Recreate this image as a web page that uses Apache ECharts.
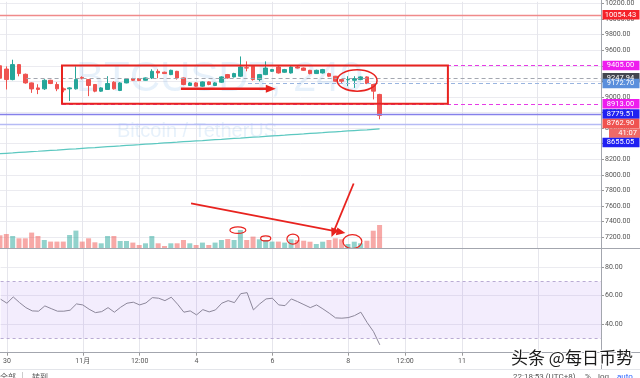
<!DOCTYPE html>
<html>
<head>
<meta charset="utf-8">
<script src="https://cdn.jsdelivr.net/npm/echarts@6/dist/echarts.min.js"></script>
<style>
html, body { margin: 0; padding: 0; background: #fff; }
#chart { width: 640px; height: 378px; }
</style>
</head>
<body>
<div id="chart"></div>
<script>
// BTCUSDT 4h, first slot (Oct 29 20:00) is only half visible on the left edge
var startTime = Date.UTC(2019, 9, 29, 20);
var slotCount = 96;

// [open, close, low, high]
var candles = [
  [9400, 9240, 9200, 9410],
  [9358, 9223, 9096, 9393], [9223, 9415, 9214, 9478], [9415, 9300, 9265, 9420], [9291, 9180, 9170, 9300],
  [9180, 9103, 9052, 9185], [9116, 9096, 9036, 9163], [9104, 9214, 9090, 9228], [9214, 9172, 9165, 9220],
  [9160, 9104, 9074, 9190], [9104, 9090, 9060, 9120], [9104, 9116, 8947, 9125], [9104, 9223, 9095, 9393],
  [9250, 9240, 9225, 9265], [9223, 9147, 9010, 9230], [9160, 9074, 9060, 9165], [9074, 9116, 9065, 9125],
  [9096, 9172, 9090, 9266], [9189, 9104, 9095, 9202], [9083, 9180, 9075, 9190], [9180, 9231, 9175, 9240],
  [9236, 9214, 9205, 9245], [9236, 9210, 9205, 9240], [9214, 9244, 9210, 9250], [9244, 9329, 9230, 9355],
  [9329, 9308, 9240, 9355], [9317, 9300, 9295, 9325], [9287, 9342, 9280, 9350], [9329, 9244, 9223, 9335],
  [9244, 9160, 9150, 9250], [9147, 9180, 9140, 9190], [9180, 9138, 9130, 9190], [9138, 9193, 9130, 9200],
  [9193, 9160, 9150, 9200], [9147, 9180, 9140, 9190], [9189, 9257, 9180, 9265], [9287, 9244, 9235, 9295],
  [9257, 9300, 9250, 9310], [9266, 9384, 9255, 9520], [9375, 9371, 9329, 9457], [9393, 9223, 9210, 9400],
  [9223, 9287, 9200, 9295], [9287, 9371, 9280, 9457], [9329, 9351, 9320, 9360], [9384, 9308, 9300, 9395],
  [9317, 9351, 9310, 9360], [9308, 9384, 9300, 9395], [9384, 9371, 9365, 9400], [9371, 9342, 9335, 9378],
  [9342, 9300, 9290, 9348], [9300, 9342, 9295, 9350], [9308, 9351, 9300, 9360], [9300, 9266, 9255, 9310],
  [9266, 9202, 9195, 9270], [9223, 9202, 9176, 9230], [9220, 9223, 9138, 9266], [9214, 9236, 9116, 9266],
  [9223, 9257, 9215, 9265], [9257, 9172, 9165, 9265], [9160, 9074, 8968, 9170], [9032, 8762.90, 8713, 9040]
];

var volumes = [
  1300, 1430, 1230, 1000, 1000, 1570, 1230, 830, 670, 670,
  670, 1330, 1770, 670, 1000, 600, 500, 1230, 1230, 730,
  730, 570, 330, 500, 1230, 500, 230, 500, 500, 830,
  500, 330, 570, 330, 570, 830, 930, 830, 1830, 830,
  1170, 900, 830, 670, 670, 570, 900, 830, 760, 660,
  430, 660, 830, 1000, 900, 430, 660, 500, 760, 1760, 2330
];

var rsiValues = [
  57.5, 54.7, 59.1, 55.1, 51.6, 49.3, 49.1, 52.8, 50.9, 49.1,
  49.1, 49.8, 54.2, 53.5, 50.5, 48.1, 48.8, 51.6, 48.4, 51.9,
  54.7, 55.4, 53.5, 54.9, 58.6, 58.2, 56.5, 58.9, 54.0, 48.4,
  49.3, 46.5, 50.2, 48.6, 50.0, 54.7, 56.5, 55.1, 61.4, 62.1,
  50.0, 54.2, 57.7, 58.2, 53.5, 53.0, 57.7, 55.8, 53.7, 51.6,
  53.5, 50.7, 47.7, 44.4, 44.2, 44.6, 46.0, 48.4, 41.1, 34.8, 25.5
];

var maValues = [
  8271, 8276, 8281, 8287, 8292, 8297, 8302, 8308, 8313, 8318,
  8324, 8329, 8334, 8340, 8345, 8350, 8356, 8361, 8366, 8371,
  8377, 8382, 8387, 8393, 8398, 8403, 8409, 8414, 8419, 8425,
  8430, 8435, 8440, 8446, 8451, 8456, 8462, 8467, 8472, 8478,
  8483, 8488, 8494, 8499, 8504, 8509, 8515, 8520, 8525, 8531,
  8536, 8541, 8547, 8552, 8557, 8563, 8568, 8573, 8578, 8584, 8590
];

var tickLabels = {
  '2019-10-30 00:00': '30',
  '2019-11-01 00:00': '11月',
  '2019-11-02 12:00': '12:00',
  '2019-11-04 00:00': '4',
  '2019-11-06 00:00': '6',
  '2019-11-08 00:00': '8',
  '2019-11-09 12:00': '12:00',
  '2019-11-11 00:00': '11',
  '2019-11-13 00:00': ''
};
var priceTicks = [7200, 7400, 7600, 7800, 8000, 8200, 8400, 8600, 8800, 9000, 9200, 9400, 9600, 9800, 10000, 10200];
var rsiTicks = [40, 60, 80];

// horizontal levels drawn on the chart
var levelValues = [10054.43, 9405.00, 9247.94, 9172.70, 8913.00, 8779.51, 8655.05];
var levelStyles = [
  {bg: '#f5222a', line: '#f08a8a', dash: false, from: -1},
  {bg: '#ee1cee', line: '#e63ce6', dash: true, from: 8.8},
  {bg: '#43464f', line: '#a3a7b0', dash: true, from: 3.2},
  {bg: '#5a8fdc', line: '#9ab5e0', dash: true, from: 38.2},
  {bg: '#ee1cee', line: '#e63ce6', dash: true, from: 8.8},
  {bg: '#2020f2', line: '#8580ea', dash: false, from: -1},
  {bg: '#2020f2', line: '#b6bbf5', dash: false, from: -1, stack: true}
];
var countdown = '41:07';

// hand drawn marks, in [candle index, price]
var boxZone = {from: 8.8, to: 69.8, top: 9405, bottom: 8913};
var rings = [
  {i: 55.45, p: 9212, ri: 3.15, rp: 138, w: 1.5},
  {i: 36.6, p: 7289, ri: 1.26, rp: 42, w: 1.2},
  {i: 41.0, p: 7183, ri: 0.8, rp: 32, w: 1.2},
  {i: 45.3, p: 7174, ri: 0.95, rp: 64, w: 1.2},
  {i: 54.7, p: 7142, ri: 1.5, rp: 89, w: 1.2}
];
var arrows = [
  {from: [27.6, 9105], to: [42.6, 9105], w: 2.6, head: 10, half: 4},
  {from: [29.2, 7633], to: [53.6, 7251], w: 1.8, head: 9, half: 4},
  {from: [54.9, 7888], to: [51.4, 7200], w: 1.8, head: 9, half: 4}
];

function pad(n) { return n < 10 ? '0' + n : '' + n; }
var categories = [];
for (var k = 0; k < slotCount; k++) {
  var d = new Date(startTime + k * 4 * 3600 * 1000);
  categories.push(d.getUTCFullYear() + '-' + pad(d.getUTCMonth() + 1) + '-' + pad(d.getUTCDate()) + ' ' + pad(d.getUTCHours()) + ':00');
}
function isTick(idx, value) { return tickLabels.hasOwnProperty(value); }

var upVol = 'rgba(38,166,154,0.5)', downVol = 'rgba(239,83,80,0.5)';
var volumeData = volumes.map(function (v, n) {
  var c = candles[n];
  var up = c[1] > c[0] || (c[1] === c[0] && n > 0 && c[1] >= candles[n - 1][1]);
  return {value: v, itemStyle: {color: up ? upVol : downVol}};
});

var gridLine = {show: true, lineStyle: {color: '#ebebf0', width: 1}};
var axisFont = {fontFamily: 'Roboto', fontSize: 7, color: '#555'};

var chart = echarts.init(document.getElementById('chart'), null, {renderer: 'canvas'});
var option = {
  animation: false,
  grid: [
    {left: -1.34, right: 39, top: 0, bottom: 129.7},
    {left: -1.34, right: 39, top: 128.3, bottom: 129.7},
    {left: -1.34, right: 39, top: 249, bottom: 25.3}
  ],
  xAxis: [
    {type: 'category', gridIndex: 0, data: categories, boundaryGap: false,
      axisLine: {show: false}, axisTick: {show: false}, axisLabel: {show: false},
      splitLine: {show: true, interval: isTick, lineStyle: {color: '#e6e6ec'}}},
    {type: 'category', gridIndex: 1, data: categories, boundaryGap: false,
      axisLine: {show: false}, axisTick: {show: false}, axisLabel: {show: false}, splitLine: {show: false}},
    {type: 'category', gridIndex: 2, data: categories, boundaryGap: false,
      axisLine: {show: false},
      axisTick: {show: true, interval: isTick, length: 3, lineStyle: {color: '#999'}},
      axisLabel: {show: true, interval: isTick, margin: 5, fontFamily: 'Roboto, "Noto Sans CJK SC"', fontSize: 7, color: '#555',
        formatter: function (v) { return tickLabels[v]; }},
      splitLine: {show: true, interval: isTick, lineStyle: {color: '#e6e6ec'}}}
  ],
  yAxis: [
    {type: 'value', gridIndex: 0, position: 'right', min: 7055.8, max: 10221.7,
      axisLine: {show: false},
      axisTick: {show: true, length: 3, customValues: priceTicks, lineStyle: {color: '#999'}},
      axisLabel: Object.assign({customValues: priceTicks, margin: 4,
        formatter: function (v) { return v.toFixed(2); }}, axisFont),
      splitLine: gridLine},
    {type: 'value', gridIndex: 1, show: false, min: 0, max: 12000},
    {type: 'value', gridIndex: 2, position: 'right', min: 20, max: 92.7,
      axisLine: {show: false},
      axisTick: {show: true, length: 3, customValues: rsiTicks, lineStyle: {color: '#999'}},
      axisLabel: Object.assign({customValues: rsiTicks, margin: 4,
        formatter: function (v) { return v.toFixed(2); }}, axisFont),
      splitLine: gridLine}
  ],
  series: [
    {type: 'line', xAxisIndex: 0, yAxisIndex: 0, data: maValues, symbol: 'none', z: 1,
      lineStyle: {color: '#5cc8c0', width: 1.2}},
    {type: 'bar', xAxisIndex: 1, yAxisIndex: 1, data: volumeData, barWidth: 5, z: 1},
    {type: 'candlestick', xAxisIndex: 0, yAxisIndex: 0, data: candles, barWidth: 4, z: 3,
      itemStyle: {color: '#26a69a', color0: '#ef5350', borderColor: '#26a69a', borderColor0: '#ef5350', borderWidth: 1}},
    {type: 'line', xAxisIndex: 2, yAxisIndex: 2, data: rsiValues, symbol: 'none',
      lineStyle: {color: '#8c879a', width: 1},
      markArea: {silent: true, itemStyle: {color: 'rgba(150,95,235,0.11)'}, data: [[{yAxis: 70}, {yAxis: 30}]]},
      markLine: {silent: true, symbol: 'none', label: {show: false},
        lineStyle: {color: '#b9abd3', type: [3, 3], width: 1},
        data: [{yAxis: 70}, {yAxis: 30}]}}
  ]
};
chart.setOption(option);

// overlays placed through the chart's own scales
var x0 = chart.convertToPixel({xAxisIndex: 0}, categories[1]);
var step = chart.convertToPixel({xAxisIndex: 0}, categories[2]) - x0;
var xRight = chart.convertToPixel({xAxisIndex: 0}, categories[slotCount - 1]);
function px(i) { return x0 + i * step; }
function py(p) { return chart.convertToPixel({yAxisIndex: 0}, p); }

var red = '#e8231f';
var g = [];

// watermark
g.push({type: 'text', z: 0, silent: true, style: {text: 'BTCUSDT, 240', x: 76, y: 79, verticalAlign: 'middle',
  font: '42px "Liberation Sans", Arial, sans-serif', fill: 'rgba(60,140,220,0.12)'}});
g.push({type: 'text', z: 0, silent: true, style: {text: 'Bitcoin / TetherUS', x: 117, y: 131, verticalAlign: 'middle',
  font: '20px "Liberation Sans", Arial, sans-serif', fill: 'rgba(60,140,220,0.12)'}});

// pane frame
g.push({type: 'line', z: 40, silent: true, shape: {x1: 0, y1: 248.5, x2: 640, y2: 248.5}, style: {stroke: '#a3a6ae', lineWidth: 1}});
g.push({type: 'line', z: 40, silent: true, shape: {x1: 0, y1: 352.5, x2: 640, y2: 352.5}, style: {stroke: '#a3a6ae', lineWidth: 1}});
g.push({type: 'line', z: 40, silent: true, shape: {x1: 601.5, y1: 0, x2: 601.5, y2: 370}, style: {stroke: '#a3a6ae', lineWidth: 1}});
g.push({type: 'line', z: 40, silent: true, shape: {x1: 0, y1: 369.5, x2: 640, y2: 369.5}, style: {stroke: '#e3e5ea', lineWidth: 1}});

// level lines
levelValues.forEach(function (v, n) {
  var s = levelStyles[n];
  var y = Math.round(py(v)) + 0.5;
  g.push({type: 'line', z: 12, silent: true,
    shape: {x1: Math.max(0, px(s.from)), y1: y, x2: xRight, y2: y},
    style: {stroke: s.line, lineWidth: s.dash ? 1.2 : 1.5, lineDash: s.dash ? [4, 3] : null}});
});

// box, rings, arrows
g.push({type: 'rect', z: 20, silent: true,
  shape: {x: px(boxZone.from), y: py(boxZone.top), width: px(boxZone.to) - px(boxZone.from), height: py(boxZone.bottom) - py(boxZone.top)},
  style: {fill: null, stroke: red, lineWidth: 2}});
rings.forEach(function (r) {
  g.push({type: 'ellipse', z: 20, silent: true,
    shape: {cx: px(r.i), cy: py(r.p), rx: r.ri * step, ry: Math.abs(py(r.p + r.rp) - py(r.p))},
    style: {fill: null, stroke: red, lineWidth: r.w}});
});
arrows.forEach(function (a) {
  var sx = px(a.from[0]), sy = py(a.from[1]), tx = px(a.to[0]), ty = py(a.to[1]);
  var len = Math.sqrt((tx - sx) * (tx - sx) + (ty - sy) * (ty - sy));
  var ux = (tx - sx) / len, uy = (ty - sy) / len;
  var bx = tx - ux * a.head, by = ty - uy * a.head;
  g.push({type: 'line', z: 20, silent: true, shape: {x1: sx, y1: sy, x2: bx + ux, y2: by + uy},
    style: {stroke: red, lineWidth: a.w}});
  g.push({type: 'polygon', z: 20, silent: true,
    shape: {points: [[tx, ty], [bx - uy * a.half, by + ux * a.half], [bx + uy * a.half, by - ux * a.half]]},
    style: {fill: red}});
});

// price tags on the axis
var tagH = 9.5;
var last = candles[candles.length - 1][1];
var ordered = levelValues.map(function (v, n) {
  return {y: py(v), text: v.toFixed(2), bg: levelStyles[n].bg, stack: !!levelStyles[n].stack};
});
ordered.push({y: py(last), text: last.toFixed(2), bg: '#ef5350', stack: true, isLast: true});
ordered.sort(function (a, b) { return a.y - b.y; });
// countdown tag sits right under the last price tag
var li = ordered.findIndex(function (t) { return t.isLast; });
ordered.splice(li + 1, 0, {y: 0, text: countdown, bg: '#ef6a67', follow: true});
var prevBottom = -100;
ordered.forEach(function (t) {
  if (t.follow) t.y = prevBottom + tagH / 2;
  else if (t.stack && t.y < prevBottom + tagH / 2) t.y = prevBottom + tagH / 2;
  prevBottom = t.y + tagH / 2;
  g.push({type: 'rect', z: 30, silent: true,
    shape: {x: t.follow ? 609 : 602.5, y: t.y - tagH / 2, width: t.follow ? 31 : 37, height: tagH},
    style: {fill: t.bg}});
  g.push({type: 'text', z: 31, silent: true,
    style: {text: t.text, x: t.follow ? 637 : 620.5, y: t.y, align: t.follow ? 'right' : 'center', verticalAlign: 'middle',
      font: '7.5px Roboto, sans-serif', fill: '#fff'}});
});

// footer texts
g.push({type: 'text', z: 50, silent: true, style: {text: '头条 @每日币势', x: 511, y: 358, verticalAlign: 'middle',
  font: '17px "Noto Sans CJK SC", sans-serif', fill: '#1b1b1b', stroke: '#fff', lineWidth: 2}});
g.push({type: 'text', z: 50, silent: true, style: {text: '22:18:53 (UTC+8)', x: 513, y: 373, verticalAlign: 'top',
  font: '8px Roboto, sans-serif', fill: '#555'}});
g.push({type: 'text', z: 50, silent: true, style: {text: '%', x: 585, y: 373, verticalAlign: 'top', font: '8px Roboto, sans-serif', fill: '#555'}});
g.push({type: 'text', z: 50, silent: true, style: {text: 'log', x: 598, y: 373, verticalAlign: 'top', font: '8px Roboto, sans-serif', fill: '#555'}});
g.push({type: 'text', z: 50, silent: true, style: {text: 'auto', x: 617, y: 373, verticalAlign: 'top', font: '8px Roboto, sans-serif', fill: '#2962ff'}});
g.push({type: 'text', z: 50, silent: true, style: {text: '全部', x: 0, y: 373, verticalAlign: 'top', font: '8px "Noto Sans CJK SC", sans-serif', fill: '#555'}});
g.push({type: 'line', z: 50, silent: true, shape: {x1: 22.5, y1: 372, x2: 22.5, y2: 378}, style: {stroke: '#ccc', lineWidth: 1}});
g.push({type: 'text', z: 50, silent: true, style: {text: '转到...', x: 32, y: 373, verticalAlign: 'top', font: '8px "Noto Sans CJK SC", sans-serif', fill: '#555'}});

chart.setOption({graphic: {elements: g}});
</script>
</body>
</html>
